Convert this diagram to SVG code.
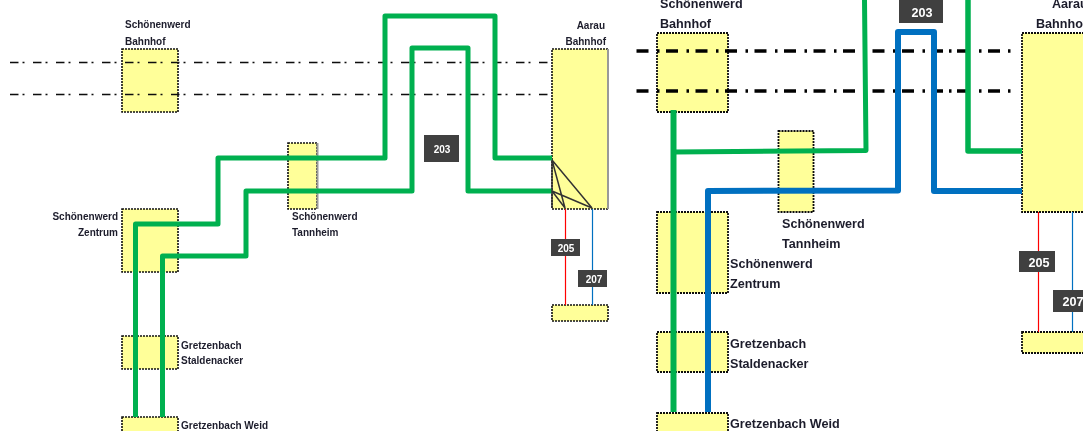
<svg xmlns="http://www.w3.org/2000/svg" width="1083" height="431" viewBox="0 0 1083 431">
<style>
text{font-family:"Liberation Sans",Arial,sans-serif;font-weight:bold;fill:#1c1c2c}
.s{font-size:10px}
.b{font-size:12.600px}
.n{fill:#ffff99;stroke:#111;stroke-dasharray:2 1}
.ns{stroke-width:1.6}
.nb{stroke-width:1.8}
.sh{fill:none;stroke:#999;stroke-width:2}
.l{fill:none;stroke-linejoin:round;stroke-linecap:butt}
.g{stroke:#00b050}
.bl{stroke:#0070c0}
.d1{fill:none;stroke:#111;stroke-width:1.4;stroke-dasharray:8.500 4 2 8.500}
.d2{fill:none;stroke:#000;stroke-width:3.400;stroke-dasharray:12 8.500 2.500 6.500}
.d3{fill:none;stroke:#000;stroke-width:3.400}
.tag{fill:#404040}
text.tl{fill:#fff;text-anchor:middle}
.x{fill:none;stroke:#333;stroke-width:1.500}
</style>
<defs><filter id="soft" x="-2%" y="-2%" width="104%" height="104%"><feGaussianBlur stdDeviation="0.4"/></filter></defs>
<rect width="1083" height="431" fill="#fff"/>
<g filter="url(#soft)">
<g id="n-schoenenwerd-bahnhof-a"><rect class="n ns" x="122" y="49" width="56" height="63"/><text class="s" x="125" y="28">Schönenwerd</text><text class="s" x="125" y="45">Bahnhof</text></g>
<g id="n-zentrum-a"><rect class="n ns" x="122" y="209" width="56" height="63"/><text class="s" x="118" y="220" text-anchor="end">Schönenwerd</text><text class="s" x="118" y="236" text-anchor="end">Zentrum</text></g>
<g id="n-tannheim-a"><rect class="n ns" x="288" y="143" width="29" height="66"/><path class="sh" d="M317.500 143V209"/><text class="s" x="292" y="220">Schönenwerd</text><text class="s" x="292" y="236">Tannheim</text></g>
<g id="n-staldenacker-a"><rect class="n ns" x="122" y="336" width="56" height="33"/><text class="s" x="181" y="349">Gretzenbach</text><text class="s" x="181" y="364">Staldenacker</text></g>
<g id="n-weid-a"><rect class="n ns" x="122" y="417" width="56" height="20"/><text class="s" x="181" y="429">Gretzenbach Weid</text></g>
<g id="n-aarau-a"><rect class="n ns" x="552" y="49" width="56" height="160"/><path class="sh" d="M608 49V209"/><text class="s" x="605" y="29" text-anchor="end">Aarau</text><text class="s" x="606" y="45" text-anchor="end">Bahnhof</text></g>
<g id="n-end-a"><rect class="n ns" x="552" y="305" width="56" height="16"/></g>

<g id="n-schoenenwerd-bahnhof-b"><rect class="n nb" x="657" y="33" width="71" height="79"/><text class="b" x="660" y="8">Schönenwerd</text><text class="b" x="660" y="28">Bahnhof</text></g>
<g id="n-tannheim-b"><rect class="n nb" x="778.500" y="131" width="35" height="81"/><text class="b" x="782" y="228">Schönenwerd</text><text class="b" x="782" y="248">Tannheim</text></g>
<g id="n-zentrum-b"><rect class="n nb" x="657" y="212" width="71" height="81"/><text class="b" x="730" y="268">Schönenwerd</text><text class="b" x="730" y="288">Zentrum</text></g>
<g id="n-staldenacker-b"><rect class="n nb" x="657" y="332" width="71" height="40"/><text class="b" x="730" y="348">Gretzenbach</text><text class="b" x="730" y="368">Staldenacker</text></g>
<g id="n-weid-b"><rect class="n nb" x="657" y="413" width="71" height="24"/><text class="b" x="730" y="428">Gretzenbach Weid</text></g>
<g id="n-aarau-b"><rect class="n nb" x="1022" y="33" width="70" height="179"/><text class="b" x="1052" y="8">Aarau</text><text class="b" x="1036" y="28">Bahnhof</text></g>
<g id="n-end-b"><rect class="n nb" x="1022" y="332" width="70" height="21"/></g>

<g id="connectors">
<path class="d1" d="M10 62.500H548M10 94.500H548"/>
<path class="d2" d="M636.500 51H926M636.500 91H926"/>
<path class="d3" d="M935 51H943M949 51H951.500M957 51H966M979 51H981.500M988 51H1000M1008 51H1010.500M935 91H943M949 91H951.500M957 91H966M979 91H981.500M988 91H1000M1008 91H1010.500"/>
<path class="l g" stroke-width="5" d="M135.500 417V224H218V158H385V16H495V158H552"/>
<path class="l g" stroke-width="5" d="M162.500 417V256H246V191H412V48H468V191H552"/>
<path class="l" stroke="#ff0000" stroke-width="1.200" d="M565.500 209V305"/>
<path class="l bl" stroke-width="1.200" d="M592.500 209V305"/>
<path class="x" d="M552 160L592 208M552 160L565 208M552 191L592 208M552 191L565 208M552 160V208"/>
<path class="l g" stroke-width="6" d="M673.500 110V412"/>
<path class="l g" stroke-width="5" d="M674 152L866 150.500L864.500 0"/>
<path class="l g" stroke-width="5.500" d="M968 0V151H1022"/>
<path class="l bl" stroke-width="6" d="M708 412V191L898 190.500V32H934V191H1022"/>
<path class="l" stroke="#ff0000" stroke-width="1.200" d="M1038.500 212V332"/>
<path class="l bl" stroke-width="1.200" d="M1072.500 212V332"/>
</g>
<g id="tag-203a"><rect class="tag" x="424" y="135" width="35" height="27"/><text class="tl s" x="442" y="153">203</text></g>
<g id="tag-205a"><rect class="tag" x="551" y="239" width="29" height="17"/><text class="tl s" x="566" y="252">205</text></g>
<g id="tag-207a"><rect class="tag" x="578" y="270" width="29" height="17"/><text class="tl s" x="594" y="283">207</text></g>
<g id="tag-203b"><rect class="tag" x="899" y="0" width="44" height="23"/><text class="tl b" x="922" y="17">203</text></g>
<g id="tag-205b"><rect class="tag" x="1019" y="251" width="36" height="21"/><text class="tl b" x="1039" y="267">205</text></g>
<g id="tag-207b"><rect class="tag" x="1053" y="290" width="36" height="22"/><text class="tl b" x="1073" y="306">207</text></g>
</g>
</svg>
